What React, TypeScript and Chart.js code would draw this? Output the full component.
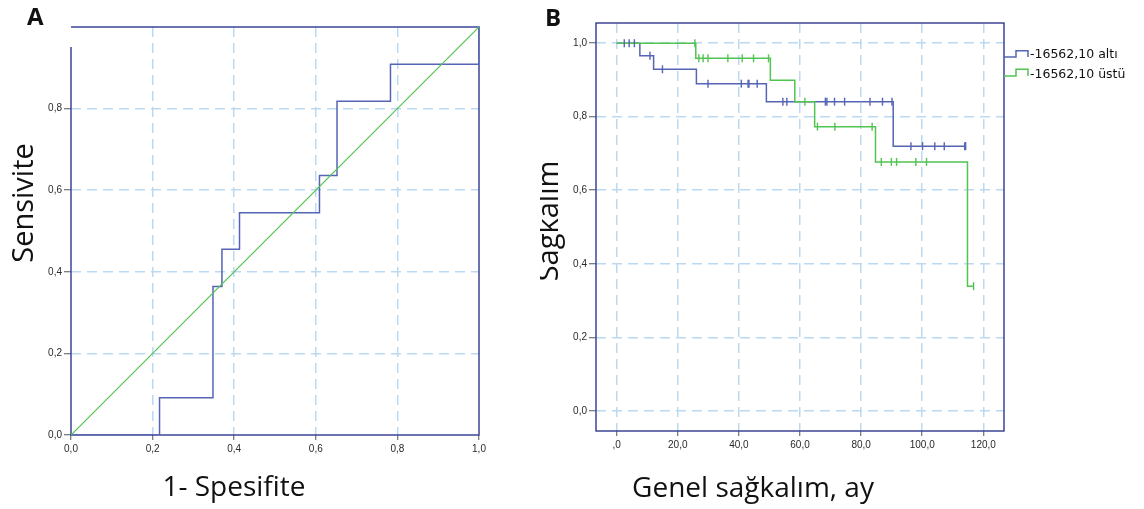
import React, { useEffect, useRef } from 'react';
import { Chart, registerables } from 'chart.js';

Chart.register(...registerables);

// ---------- Panel A: ROC curve ----------
const rocFpr = [0, 0.217, 0.348, 0.37, 0.413, 0.609, 0.652, 0.783, 1.0];
const rocTpr = [0, 0.091, 0.364, 0.455, 0.545, 0.636, 0.818, 0.909, 1.0];
const refX = [0, 1];
const refY = [0, 1];
const rocTickValues = [0, 0.2, 0.4, 0.6, 0.8, 1.0];
const rocXTickLabels = ['0,0', '0,2', '0,4', '0,6', '0,8', '1,0'];
const rocYTickLabels = ['0,0', '0,2', '0,4', '0,6', '0,8', ''];

// ---------- Panel B: Kaplan-Meier ----------
const seriesNames = ['-16562,10 altı', '-16562,10 üstü'];
const kmTimeAlti = [0, 7.6, 12.1, 26.1, 49.0, 90.5, 114.2];
const kmSurvAlti = [1, 0.966, 0.929, 0.89, 0.841, 0.72, 0.72];
const censorAlti = [2.5, 4.1, 5.8, 10.9, 15.0, 29.9, 40.8, 43.0, 43.3, 46.0, 54.4, 55.7, 68.3, 68.8, 71.3, 74.6, 82.9, 87.0, 90.1, 96.3, 100.1, 104.1, 107.2, 113.9, 114.2];
const kmTimeUstu = [0, 25.9, 50.3, 58.3, 64.8, 84.7, 114.8, 116.8];
const kmSurvUstu = [1, 0.959, 0.899, 0.841, 0.773, 0.677, 0.339, 0.339];
const censorUstu = [25.6, 26.9, 28.3, 29.9, 36.4, 41.1, 44.8, 49.7, 61.6, 65.7, 71.4, 83.6, 86.6, 89.9, 91.6, 97.9, 101.4, 116.8];
const kmXTicks = [0, 20, 40, 60, 80, 100, 120];
const kmXTickLabels = [',0', '20,0', '40,0', '60,0', '80,0', '100,0', '120,0'];
const kmYTicks = [0, 0.2, 0.4, 0.6, 0.8, 1.0];
const kmYTickLabels = ['0,0', '0,2', '0,4', '0,6', '0,8', '1,0'];

const FRAME = '#3d4596';
const BLUE = '#5465b5';
const GREEN = '#52c452';
const GRID = '#bcd9f2';
const DASH = [10, 6];
const TICK_FONT = { family: '"Liberation Sans", Arial, sans-serif', size: 10 };
const TICK_COLOR = '#2a2a2a';
const TITLE_FONT = '"Open Sans", "Noto Sans", sans-serif';

function survAt(times: number[], surv: number[], t: number) {
  let s = surv[0];
  for (let i = 0; i < times.length; i++) if (times[i] <= t) s = surv[i];
  return s;
}

function drawText(ctx: CanvasRenderingContext2D, text: string, x: number, y: number, font: string, align: CanvasTextAlign = 'left', rot = 0) {
  ctx.save();
  ctx.font = font;
  ctx.fillStyle = '#111';
  ctx.textAlign = align;
  ctx.textBaseline = 'alphabetic';
  ctx.translate(x, y);
  if (rot) ctx.rotate(rot);
  ctx.fillText(text, 0, 0);
  ctx.restore();
}

function makeChartA(canvas: HTMLCanvasElement) {
  const framePlugin = {
    id: 'frameA',
    beforeDatasetsDraw(chart: any) {
      const { ctx, chartArea: a, scales } = chart;
      ctx.save();
      ctx.strokeStyle = FRAME;
      ctx.lineWidth = 1.5;
      ctx.beginPath();
      const leftTop = scales.y.getPixelForValue(0.951);
      ctx.moveTo(a.left, leftTop);
      ctx.lineTo(a.left, a.bottom);
      ctx.lineTo(a.right, a.bottom);
      ctx.lineTo(a.right, a.top);
      ctx.lineTo(a.left, a.top);
      ctx.stroke();
      ctx.restore();
    },
    afterDraw(chart: any) {
      const ctx = chart.ctx;
      drawText(ctx, 'A', 27, 25, `bold 24px ${TITLE_FONT}`);
      drawText(ctx, 'Sensivite', 33, 203, `29px ${TITLE_FONT}`, 'center', -Math.PI / 2);
      drawText(ctx, '1- Spesifite', 234, 496, `28px ${TITLE_FONT}`, 'center');
    },
  };
  const hideEdge = (c: any) => (c.tick && (c.tick.value === 0 || c.tick.value === 1) ? 'rgba(0,0,0,0)' : GRID);
  return new Chart(canvas, {
    type: 'line',
    data: {
      datasets: [
        {
          label: 'Referans',
          data: refX.map((x, i) => ({ x, y: refY[i] })),
          borderColor: GREEN,
          borderWidth: 1.2,
          pointRadius: 0,
          fill: false,
        },
        {
          label: 'ROC',
          data: rocFpr.map((x, i) => ({ x, y: rocTpr[i] })),
          stepped: 'before',
          borderColor: BLUE,
          borderWidth: 1.5,
          pointRadius: 0,
          fill: false,
        },
      ],
    },
    options: {
      responsive: false,
      animation: false,
      events: [],
      layout: { padding: { left: 0, top: 27, right: 61, bottom: 0 } },
      plugins: { legend: { display: false }, tooltip: { enabled: false } },
      scales: {
        x: {
          type: 'linear',
          min: 0,
          max: 1,
          afterBuildTicks: (s: any) => { s.ticks = rocTickValues.map((v) => ({ value: v })); },
          afterFit: (s: any) => { s.height = 74; },
          ticks: { callback: (_v: any, i: number) => rocXTickLabels[i], font: TICK_FONT, color: TICK_COLOR, padding: 3, maxRotation: 0, autoSkip: false },
          grid: { color: hideEdge, lineWidth: 1.5, tickLength: 5, tickColor: '#555', tickWidth: 1, tickBorderDash: [] },
          border: { display: false, dash: DASH },
        },
        y: {
          type: 'linear',
          min: 0,
          max: 1,
          afterBuildTicks: (s: any) => { s.ticks = rocTickValues.map((v) => ({ value: v })); },
          afterFit: (s: any) => { s.width = 71; },
          ticks: { callback: (_v: any, i: number) => rocYTickLabels[i], font: TICK_FONT, color: TICK_COLOR, padding: 2, autoSkip: false },
          grid: {
            color: hideEdge,
            lineWidth: 1.5,
            tickLength: 7,
            tickColor: (c: any) => (c.tick && c.tick.value === 1 ? 'rgba(0,0,0,0)' : '#555'),
            tickWidth: 1,
            tickBorderDash: [],
          },
          border: { display: false, dash: DASH },
        },
      },
    },
    plugins: [framePlugin],
  } as any);
}

function makeChartB(canvas: HTMLCanvasElement) {
  const framePlugin = {
    id: 'frameB',
    beforeDatasetsDraw(chart: any) {
      const { ctx, chartArea: a } = chart;
      ctx.save();
      ctx.strokeStyle = FRAME;
      ctx.lineWidth = 1.5;
      ctx.strokeRect(a.left, a.top, a.right - a.left, a.bottom - a.top);
      ctx.restore();
    },
    afterDraw(chart: any) {
      const ctx = chart.ctx;
      const a = chart.chartArea;
      drawText(ctx, 'B', 5, 26, `bold 24px ${TITLE_FONT}`);
      drawText(ctx, 'Sağkalım', 18, 221, `29px ${TITLE_FONT}`, 'center', -Math.PI / 2);
      drawText(ctx, 'Genel sağkalım, ay', 213, 497, `28px ${TITLE_FONT}`, 'center');
      const items = [
        { color: BLUE, low: 57, high: 50.7, ty: 55 },
        { color: GREEN, low: 76, high: 69.3, ty: 74.3 },
      ];
      items.forEach((it, i) => {
        const x0 = a.right;
        ctx.save();
        ctx.strokeStyle = it.color;
        ctx.lineWidth = 1.5;
        ctx.beginPath();
        ctx.moveTo(x0, it.low);
        ctx.lineTo(x0 + 12, it.low);
        ctx.lineTo(x0 + 12, it.high);
        ctx.lineTo(x0 + 24, it.high);
        ctx.lineTo(x0 + 24, it.low);
        ctx.stroke();
        ctx.font = '12.5px "DejaVu Sans", sans-serif';
        ctx.fillStyle = '#111';
        ctx.textAlign = 'left';
        ctx.textBaseline = 'middle';
        ctx.fillText(seriesNames[i], x0 + 26, it.ty);
        ctx.restore();
      });
    },
  };
  const censorStyle = {
    showLine: false,
    pointStyle: 'line',
    rotation: 90,
    pointRadius: 4,
    pointBorderWidth: 1.4,
  };
  return new Chart(canvas, {
    type: 'line',
    data: {
      datasets: [
        {
          label: seriesNames[1] + ' sansür',
          data: censorUstu.map((t) => ({ x: t, y: survAt(kmTimeUstu, kmSurvUstu, t) })),
          borderColor: GREEN,
          pointBorderColor: GREEN,
          ...censorStyle,
          order: 0,
        },
        {
          label: seriesNames[0] + ' sansür',
          data: censorAlti.map((t) => ({ x: t, y: survAt(kmTimeAlti, kmSurvAlti, t) })),
          borderColor: BLUE,
          pointBorderColor: BLUE,
          ...censorStyle,
          order: 1,
        },
        {
          label: seriesNames[1],
          data: kmTimeUstu.map((t, i) => ({ x: t, y: kmSurvUstu[i] })),
          stepped: 'before',
          borderColor: GREEN,
          borderWidth: 1.5,
          pointRadius: 0,
          fill: false,
          order: 2,
        },
        {
          label: seriesNames[0],
          data: kmTimeAlti.map((t, i) => ({ x: t, y: kmSurvAlti[i] })),
          stepped: 'before',
          borderColor: BLUE,
          borderWidth: 1.5,
          pointRadius: 0,
          fill: false,
          order: 3,
        },
      ],
    },
    options: {
      responsive: false,
      animation: false,
      events: [],
      layout: { padding: { left: 0, top: 23, right: 140, bottom: 0 } },
      plugins: { legend: { display: false }, tooltip: { enabled: false } },
      scales: {
        x: {
          type: 'linear',
          min: -6.75,
          max: 126.75,
          afterBuildTicks: (s: any) => { s.ticks = kmXTicks.map((v) => ({ value: v })); },
          afterFit: (s: any) => { s.height = 78; },
          ticks: { callback: (_v: any, i: number) => kmXTickLabels[i], font: TICK_FONT, color: TICK_COLOR, padding: 3, maxRotation: 0, autoSkip: false },
          grid: { color: GRID, lineWidth: 1.5, tickLength: 5, tickColor: '#555', tickWidth: 1, tickBorderDash: [] },
          border: { display: false, dash: DASH },
        },
        y: {
          type: 'linear',
          min: -0.055,
          max: 1.055,
          afterBuildTicks: (s: any) => { s.ticks = kmYTicks.map((v) => ({ value: v })); },
          afterFit: (s: any) => { s.width = 56; },
          ticks: { callback: (_v: any, i: number) => kmYTickLabels[i], font: TICK_FONT, color: TICK_COLOR, padding: 2, autoSkip: false },
          grid: { color: GRID, lineWidth: 1.5, tickLength: 7, tickColor: '#555', tickWidth: 1, tickBorderDash: [] },
          border: { display: false, dash: DASH },
        },
      },
    },
    plugins: [framePlugin],
  } as any);
}

export default function App() {
  const refA = useRef<HTMLCanvasElement>(null);
  const refB = useRef<HTMLCanvasElement>(null);

  useEffect(() => {
    let charts: Chart[] = [];
    let cancelled = false;
    const build = () => {
      if (cancelled || !refA.current || !refB.current) return;
      charts = [makeChartA(refA.current), makeChartB(refB.current)];
    };
    const fonts: any = (document as any).fonts;
    if (fonts && fonts.load) {
      Promise.all([
        fonts.load(`28px "Open Sans"`),
        fonts.load(`bold 24px "Open Sans"`),
        fonts.load(`12.5px "DejaVu Sans"`),
        fonts.load(`10px "Liberation Sans"`),
      ]).then(build, build);
    } else build();
    return () => {
      cancelled = true;
      charts.forEach((c) => c.destroy());
    };
  }, []);

  return (
    <div style={{ position: 'absolute', left: 0, top: 0, width: 1144, height: 509, background: '#fff', overflow: 'hidden' }}>
      <canvas ref={refA} width={540} height={509} style={{ position: 'absolute', left: 0, top: 0, width: 540, height: 509 }} />
      <canvas ref={refB} width={604} height={509} style={{ position: 'absolute', left: 540, top: 0, width: 604, height: 509 }} />
    </div>
  );
}
